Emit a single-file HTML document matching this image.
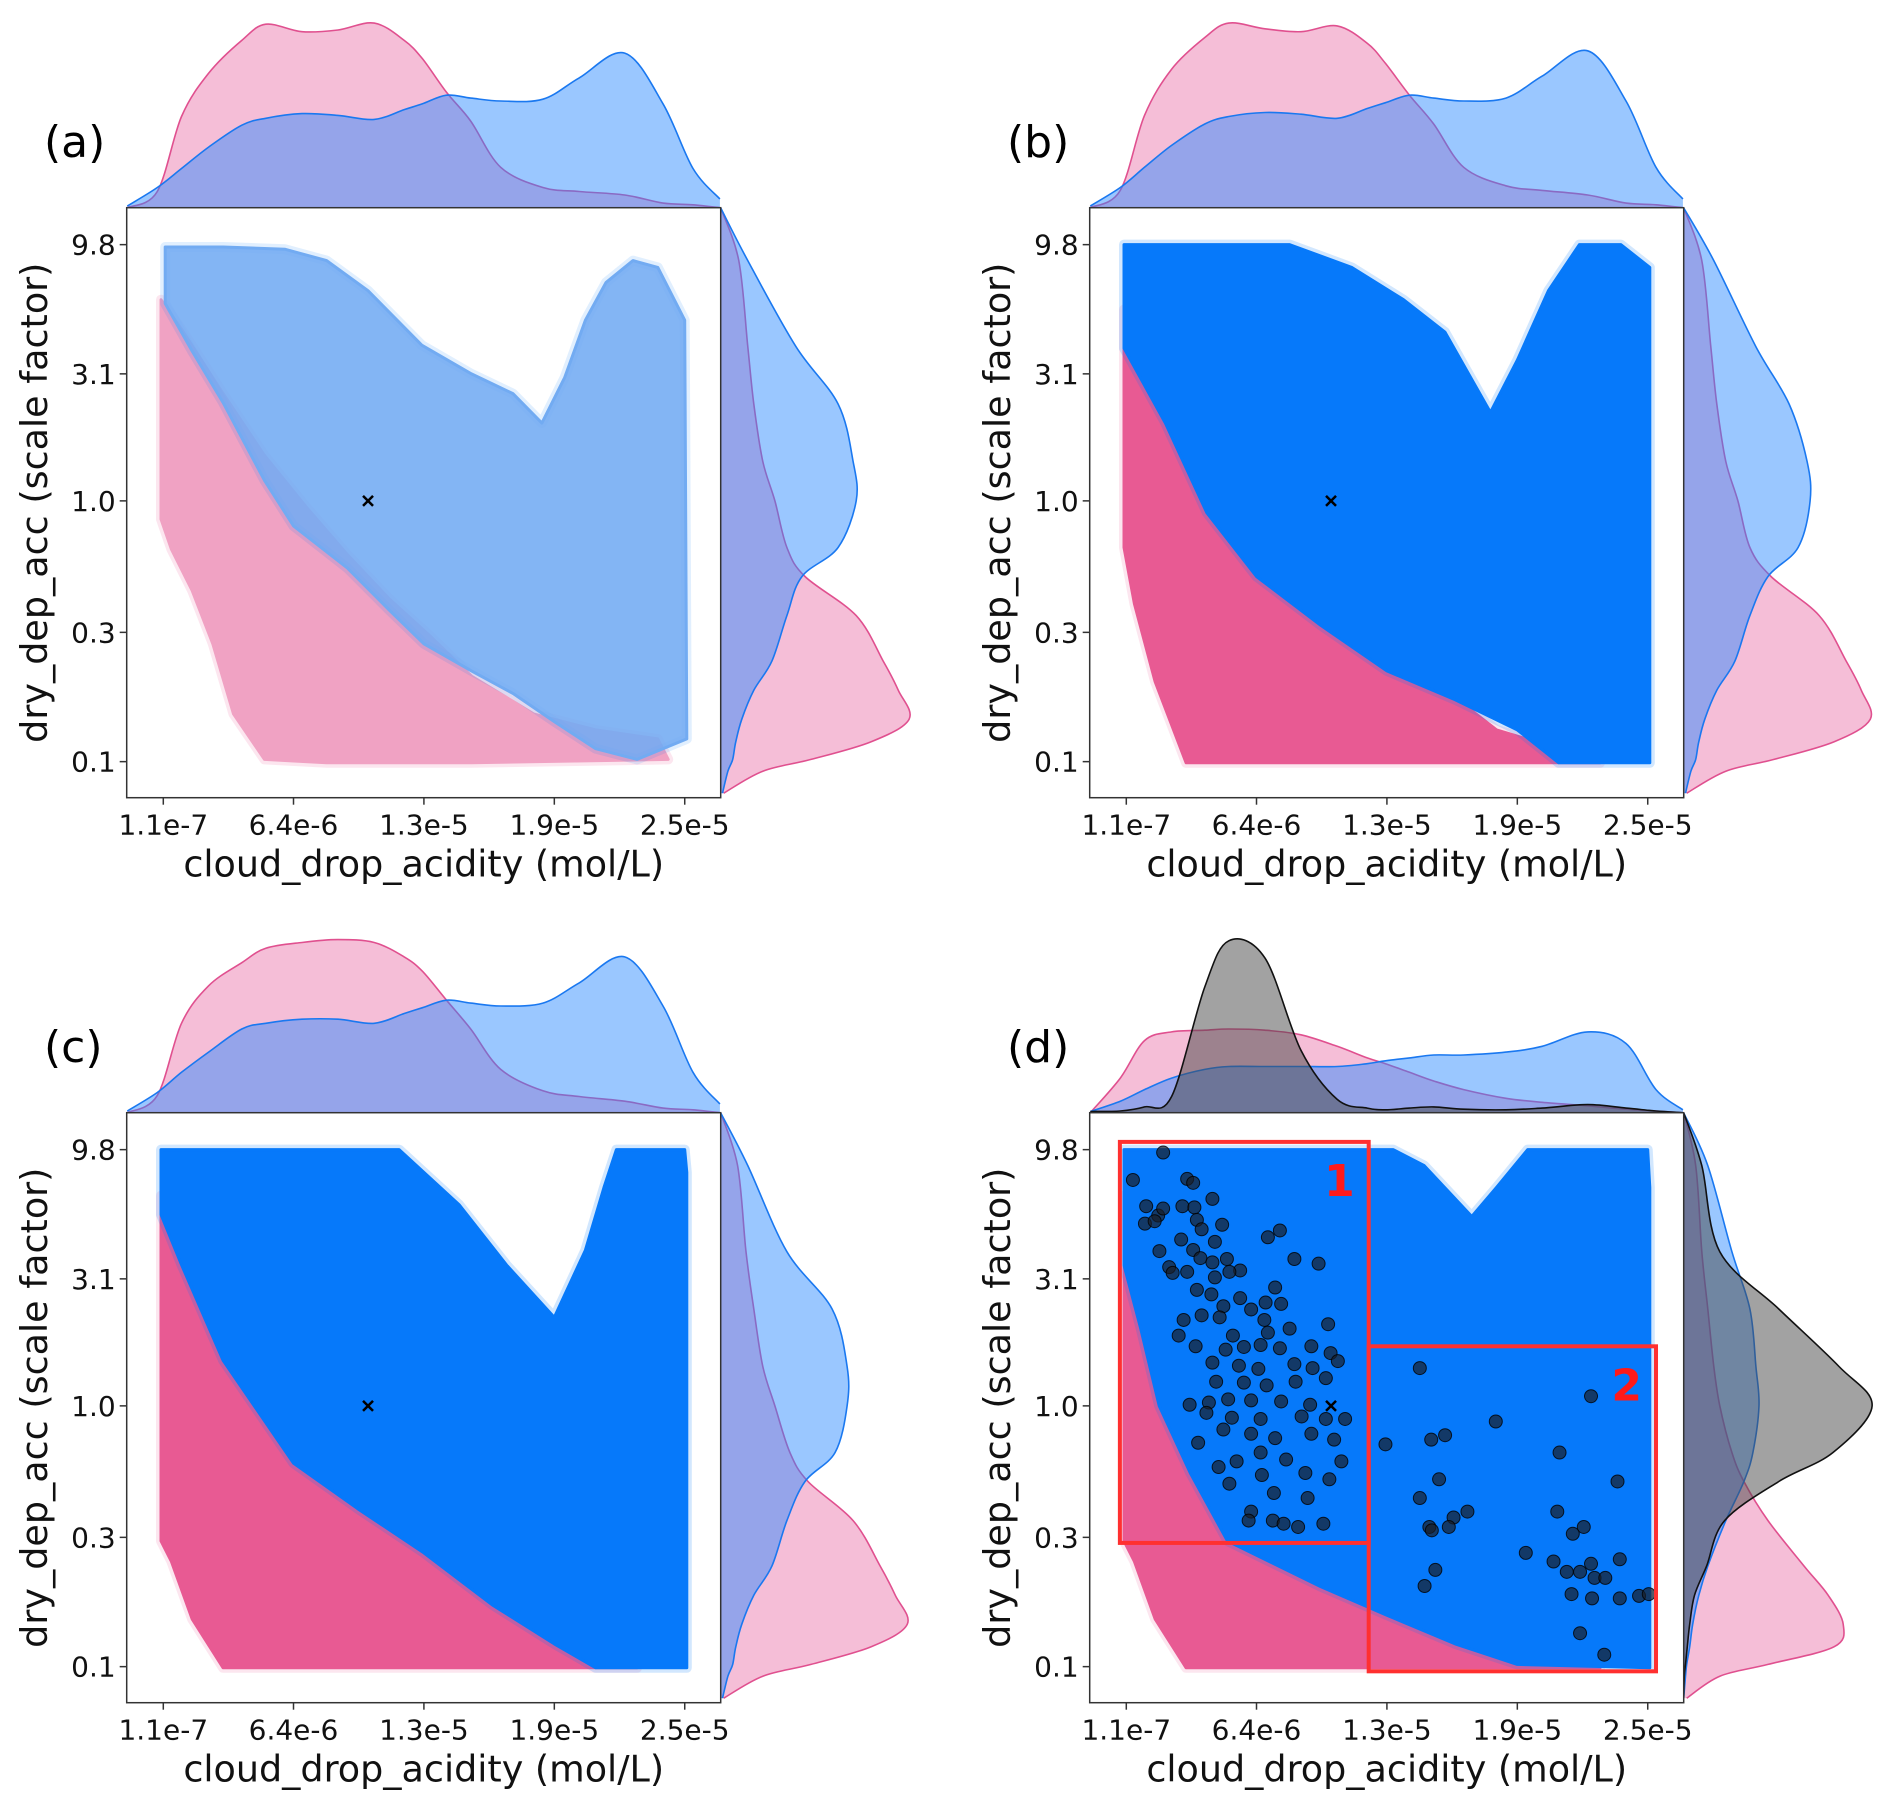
<!DOCTYPE html>
<html><head><meta charset="utf-8">
<style>
html,body{margin:0;padding:0;background:#fff;}
svg{display:block;font-family:"DejaVu Sans","Liberation Sans",sans-serif;}
</style></head>
<body>
<svg id="fig" width="1892" height="1809" viewBox="0 0 1892 1809" xmlns="http://www.w3.org/2000/svg"></svg>
<script>
// ---- chart data ----
const xTickVals = [0.11, 6.4, 12.7, 19.0, 25.3];           // 1e-6 mol/L
const xTickLabels = ['1.1e-7', '6.4e-6', '1.3e-5', '1.9e-5', '2.5e-5'];
const yTickVals = [9.8, 3.1, 1.0, 0.31, 0.098];
const yTickLabels = ['9.8', '3.1', '1.0', '0.3', '0.1'];
const panelLabels = ['(a)', '(b)', '(c)', '(d)'];
const baseX = [10];
const baseY = [1.0];

// top marginal KDE grid (x, 1e-6 mol/L) and densities
const topX = [-1.63, -0.18, 0.99, 2.30, 3.90, 5.06, 6.81, 8.55, 10.3, 11.75, 12.63, 13.79, 14.96, 16.41, 18.45, 20.2, 22.4, 24.25, 25.7, 27.0];
const pinkTopA = [0, 0.28, 1.58, 2.33, 2.90, 3.18, 3.05, 3.08, 3.20, 2.90, 2.58, 2.00, 1.50, 0.70, 0.35, 0.28, 0.22, 0.08, 0.05, 0];
const blueTopA = [0.03, 0.35, 0.68, 1.05, 1.43, 1.55, 1.63, 1.60, 1.53, 1.70, 1.80, 1.95, 1.90, 1.85, 1.88, 2.25, 2.68, 1.80, 0.68, 0.15];
const pinkTopB = [0, 0.30, 1.60, 2.40, 2.95, 3.20, 3.10, 3.05, 3.15, 2.85, 2.50, 1.95, 1.45, 0.70, 0.38, 0.30, 0.22, 0.08, 0.05, 0];
const blueTopB = [0.03, 0.35, 0.70, 1.08, 1.45, 1.58, 1.65, 1.62, 1.55, 1.72, 1.82, 1.95, 1.90, 1.85, 1.90, 2.28, 2.72, 1.85, 0.70, 0.15];
const pinkTopC = [0, 0.30, 1.55, 2.20, 2.60, 2.85, 2.95, 3.00, 2.95, 2.70, 2.45, 1.95, 1.45, 0.75, 0.38, 0.28, 0.20, 0.08, 0.05, 0];
const blueTopC = [0.03, 0.35, 0.70, 1.05, 1.45, 1.55, 1.62, 1.62, 1.55, 1.72, 1.82, 1.95, 1.90, 1.85, 1.90, 2.25, 2.70, 1.85, 0.70, 0.15];
const pinkTopD = [0, 0.60, 1.25, 1.40, 1.43, 1.45, 1.43, 1.35, 1.15, 0.95, 0.85, 0.70, 0.55, 0.40, 0.25, 0.18, 0.12, 0.06, 0.03, 0];
const blueTopD = [0.02, 0.20, 0.40, 0.60, 0.75, 0.80, 0.80, 0.80, 0.80, 0.85, 0.90, 0.95, 1.00, 1.00, 1.05, 1.15, 1.40, 1.20, 0.40, 0.05];
const blackTopD = [0.02, 0.03, 0.10, 0.28, 2.18, 2.98, 2.68, 1.08, 0.23, 0.08, 0.05, 0.08, 0.10, 0.06, 0.05, 0.08, 0.14, 0.08, 0.03, 0];

// right marginal KDE grid (y, scale factor) and densities
const rightY = [13.6, 8.5, 3.95, 2.37, 1.42, 1.0, 0.66, 0.51, 0.36, 0.24, 0.185, 0.143, 0.117, 0.1, 0.09, 0.074];
const pinkRightA = [0, 0.30, 0.45, 0.55, 0.70, 0.90, 1.10, 1.40, 2.25, 2.70, 2.95, 3.13, 2.50, 1.50, 0.70, 0.05];
const blueRightA = [0, 0.45, 1.25, 1.95, 2.20, 2.25, 1.95, 1.35, 1.10, 0.85, 0.55, 0.35, 0.25, 0.20, 0.12, 0.03];
const pinkRightB = [0, 0.30, 0.45, 0.55, 0.70, 0.90, 1.10, 1.45, 2.25, 2.70, 2.95, 3.10, 2.50, 1.50, 0.70, 0.05];
const blueRightB = [0, 0.50, 1.20, 1.75, 2.05, 2.10, 1.90, 1.40, 1.10, 0.85, 0.55, 0.35, 0.25, 0.20, 0.12, 0.03];
const pinkRightC = [0, 0.28, 0.42, 0.55, 0.70, 0.90, 1.15, 1.45, 2.20, 2.65, 2.90, 3.10, 2.50, 1.50, 0.70, 0.05];
const blueRightC = [0, 0.45, 1.10, 1.85, 2.10, 2.10, 1.90, 1.40, 1.10, 0.85, 0.55, 0.35, 0.25, 0.20, 0.12, 0.03];
const pinkRightD = [0, 0.20, 0.30, 0.40, 0.50, 0.60, 0.80, 1.00, 1.40, 2.00, 2.40, 2.65, 2.50, 1.40, 0.60, 0.05];
const blueRightD = [0, 0.40, 0.80, 1.10, 1.20, 1.25, 1.15, 1.00, 0.70, 0.40, 0.25, 0.15, 0.10, 0.05, 0.03, 0];
const blackRightD = [0, 0.30, 0.60, 1.58, 2.58, 3.13, 2.48, 1.58, 0.68, 0.38, 0.18, 0.10, 0.06, 0.03, 0.01, 0];

// scatter-cloud extents [x, y] per panel
const pinkCloudA = [[0,6],[1,4.6],[3,2.6],[5,1.5],[7,0.95],[9,0.62],[11,0.42],[13,0.3],[15,0.21],[18,0.15],[21,0.13],[24,0.12],[24.5,0.1],[15,0.097],[8,0.097],[5,0.1],[3.5,0.15],[2.5,0.28],[1.5,0.45],[0.5,0.65],[0,0.85]];
const blueCloudA = [[0.2,9.6],[3,9.6],[6,9.4],[8,8.5],[10,6.5],[12.6,4],[15,3.1],[17,2.6],[18.4,2.0],[19.5,3],[20.5,5],[21.5,7],[22.8,8.5],[24,8],[25.3,5],[25.4,0.12],[23,0.1],[21,0.11],[19,0.14],[17,0.18],[15,0.22],[12.7,0.28],[11,0.38],[9,0.55],[6.4,0.8],[5,1.2],[3,2.4],[1.5,3.8],[0.2,5.8]];
const pinkCloudB = [[0,5.5],[1,4],[3,2],[6,1],[9,0.55],[12,0.33],[15,0.2],[18,0.13],[21,0.11],[23,0.1],[23,0.097],[10,0.097],[3,0.097],[1.5,0.2],[0.5,0.4],[0,0.66]];
const blueCloudB = [[0,9.8],[8,9.8],[11,8],[13.5,6],[15.5,4.5],[17.7,2.2],[19,3.5],[20.5,6.5],[22,9.8],[24,9.8],[25.4,8],[25.4,0.097],[21,0.097],[19,0.13],[16,0.17],[12.7,0.22],[9.5,0.33],[6.4,0.51],[4,0.9],[2,2],[0,3.9]];
const pinkCloudC = [[0,6.5],[1,4.5],[3,2.4],[6,1.1],[9,0.6],[12,0.35],[15,0.22],[18,0.14],[21,0.12],[23,0.1],[23,0.097],[3,0.097],[1.5,0.15],[0.5,0.25],[0,0.3]];
const blueCloudC = [[0,9.8],[11.5,9.8],[14.4,6],[16.7,3.5],[19.0,2.2],[20.5,4],[21.4,7],[22,9.8],[25.3,9.8],[25.4,8],[25.4,0.097],[21,0.097],[19,0.12],[16,0.17],[12.7,0.27],[9.5,0.4],[6.4,0.6],[3,1.5],[1,3.5],[0,5.5]];
const pinkCloudD = [[0,6.5],[1,4.5],[3,2.4],[6,1.1],[9,0.6],[12,0.35],[15,0.22],[18,0.14],[21,0.12],[23,0.1],[23,0.097],[3,0.097],[1.5,0.15],[0.5,0.25],[0,0.3]];
const blueCloudD = [[0,9.8],[13,9.8],[14.5,8.5],[16.8,5.4],[18,7],[19.5,9.8],[25.3,9.8],[25.4,7],[25.4,0.097],[19,0.1],[16,0.12],[12.7,0.155],[9.5,0.2],[5,0.3],[3.2,0.55],[1.7,1.0],[0.8,2],[0,3.5]];

// selected samples (panel d)
const blackX = [1.89,0.43,3.05,3.34,4.27,1.07,1.65,1.89,1.01,1.48,2.82,3.40,3.52,3.75,4.74,6.95,7.53,2.76,1.71,3.34,4.39,8.23,9.40,2.18,2.35,3.05,3.69,4.27,4.97,5.61,4.39,5.09,7.30,3.52,4.22,5.61,6.84,7.59,4.80,6.14,2.88,3.75,4.62,6.78,9.86,2.64,5.26,6.95,8.00,3.46,4.91,5.79,6.60,7.53,9.05,9.98,10.33,4.27,5.55,6.49,8.23,9.11,4.45,5.79,6.89,8.29,9.75,3.17,4.10,5.03,6.14,7.59,8.99,10.68,3.98,5.21,6.60,8.58,9.75,3.58,4.80,6.14,7.30,9.05,10.15,4.57,5.44,6.60,7.83,10.50,5.09,6.66,8.76,9.92,7.24,8.87,6.14,6.02,7.19,7.71,8.41,9.63,
  14.29,22.56,17.96,12.63,14.84,15.51,21.04,23.84,15.22,14.29,16.59,15.92,20.93,22.21,14.75,14.87,15.69,21.68,19.41,20.75,22.56,23.95,21.39,22.03,22.73,23.25,15.04,14.52,21.62,22.61,23.95,24.88,25.35,22.03,23.20];
const blackY = [9.55,7.48,7.55,7.29,6.32,5.92,5.45,5.80,5.07,5.18,5.92,5.86,5.24,4.82,5.02,4.49,4.77,4.40,3.97,4.01,4.31,3.70,3.55,3.44,3.27,3.30,3.73,3.59,3.70,3.34,3.14,3.30,2.87,2.81,2.70,2.61,2.51,2.48,2.43,2.36,2.15,2.24,2.20,2.15,2.07,1.87,1.87,1.92,1.99,1.70,1.65,1.69,1.72,1.67,1.70,1.60,1.49,1.47,1.43,1.39,1.45,1.40,1.24,1.23,1.20,1.24,1.28,1.01,1.03,1.06,1.05,1.04,1.01,0.89,0.94,0.90,0.89,0.91,0.89,0.72,0.81,0.78,0.75,0.78,0.74,0.58,0.61,0.66,0.62,0.61,0.50,0.54,0.55,0.52,0.46,0.44,0.39,0.36,0.36,0.35,0.34,0.35,
  1.40,1.09,0.87,0.71,0.74,0.77,0.66,0.51,0.52,0.44,0.39,0.37,0.39,0.34,0.34,0.33,0.34,0.32,0.27,0.25,0.245,0.255,0.228,0.228,0.216,0.216,0.232,0.201,0.187,0.180,0.180,0.184,0.187,0.132,0.109];

// selection boxes [x0, x1, yTop, yBottom]
const box1 = [-0.2, 11.82, 10.5, 0.295];
const box2 = [11.82, 25.7, 1.70, 0.094];
const boxLabels = ['1', '2'];

// ---- axis functions (panel-local pixels) ----
const PL = 126.7, PR = 720.7, PT = 207.7, PB = 797.7;
function sx(v) { return 163.3 + (v - 0.11) * 20.7; }
function sy(y) { return 761.7 - (Math.log10(y) + 1.009) * 258.5; }
function tyD(d) { return PT - d * 57.7; }
function rxD(d) { return PR + d * 60.2; }

const NS = 'http://www.w3.org/2000/svg';
const fig = document.getElementById('fig');
function mk(tag, attrs, parent) {
  const e = document.createElementNS(NS, tag);
  for (const k in attrs) e.setAttribute(k, attrs[k]);
  (parent || fig).appendChild(e);
  return e;
}
function smooth(pts) {
  let d = 'M' + pts[0][0].toFixed(1) + ',' + pts[0][1].toFixed(1);
  for (let i = 0; i < pts.length - 1; i++) {
    const p0 = pts[Math.max(0, i - 1)], p1 = pts[i], p2 = pts[i + 1], p3 = pts[Math.min(pts.length - 1, i + 2)];
    const c1 = [p1[0] + (p2[0] - p0[0]) / 6, p1[1] + (p2[1] - p0[1]) / 6];
    const c2 = [p2[0] - (p3[0] - p1[0]) / 6, p2[1] - (p3[1] - p1[1]) / 6];
    d += 'C' + c1[0].toFixed(1) + ',' + c1[1].toFixed(1) + ' ' + c2[0].toFixed(1) + ',' + c2[1].toFixed(1) + ' ' + p2[0].toFixed(1) + ',' + p2[1].toFixed(1);
  }
  return d;
}
function poly(pts) {
  return 'M' + pts.map(p => p[0].toFixed(1) + ',' + p[1].toFixed(1)).join('L') + 'Z';
}

const PINK = '#e85a93', BLUE = '#0679fa';
const KDE = {
  pink: { fill: 'rgba(232,100,160,0.42)', stroke: '#e0508f' },
  blue: { fill: 'rgba(40,135,255,0.47)', stroke: '#1a78f0' },
  black: { fill: 'rgba(70,70,70,0.5)', stroke: '#111' }
};

const panels = [
  { ox: 0, oy: 0, sparse: true, pink: pinkCloudA, blue: blueCloudA, tops: [['pink', pinkTopA], ['blue', blueTopA]], rights: [['pink', pinkRightA], ['blue', blueRightA]] },
  { ox: 963, oy: 0, sparse: false, pink: pinkCloudB, blue: blueCloudB, tops: [['pink', pinkTopB], ['blue', blueTopB]], rights: [['pink', pinkRightB], ['blue', blueRightB]] },
  { ox: 0, oy: 905, sparse: false, pink: pinkCloudC, blue: blueCloudC, tops: [['pink', pinkTopC], ['blue', blueTopC]], rights: [['pink', pinkRightC], ['blue', blueRightC]] },
  { ox: 963, oy: 905, sparse: false, pink: pinkCloudD, blue: blueCloudD, tops: [['pink', pinkTopD], ['blue', blueTopD], ['black', blackTopD]], rights: [['pink', pinkRightD], ['blue', blueRightD], ['black', blackRightD]], selected: true }
];

const defs = mk('defs', {});
const cp = mk('clipPath', { id: 'plotclip' }, defs);
mk('rect', { x: PL, y: PT, width: PR - PL, height: PB - PT }, cp);

panels.forEach((p, pi) => {
  const g = mk('g', { transform: 'translate(' + p.ox + ',' + p.oy + ')' });
  
  

  const tg = mk('g', {}, g);
  
  
  p.tops.forEach(([c, arr]) => {
    const pts = topX.map((x, i) => [sx(x), tyD(arr[i])]);
    const d = smooth(pts);
    const f = mk('path', { d: d + 'L' + sx(topX[topX.length - 1]) + ',' + PT + 'L' + sx(topX[0]) + ',' + PT + 'Z', fill: KDE[c].fill, stroke: 'none' }, tg);
    
    
    const l = mk('path', { d: d, fill: 'none', stroke: KDE[c].stroke, 'stroke-width': 1.6 }, tg);
    
    
  });

  const rg = mk('g', {}, g);
  
  
  p.rights.forEach(([c, arr]) => {
    const pts = rightY.map((y, i) => [rxD(arr[i]), sy(y)]);
    const d = smooth(pts);
    const f = mk('path', { d: d + 'L' + PR + ',' + sy(rightY[rightY.length - 1]) + 'L' + PR + ',' + sy(rightY[0]) + 'Z', fill: KDE[c].fill, stroke: 'none' }, rg);
    
    
    const l = mk('path', { d: d, fill: 'none', stroke: KDE[c].stroke, 'stroke-width': 1.6 }, rg);
    
    
  });

  const bg = mk('rect', { x: PL, y: PT, width: PR - PL, height: PB - PT, fill: '#fff' }, g);
  
  
  const sg = mk('g', { 'clip-path': 'url(#plotclip)' }, g);
  
  

  const pinkFill = p.sparse ? '#f0a2c3' : PINK;
  const blueFill = p.sparse ? '#72abf2' : BLUE;
  const pd = poly(p.pink.map(([x, y]) => [sx(x), sy(y)]));
  mk('path', { d: pd, fill: 'none', stroke: PINK, 'stroke-opacity': 0.15, 'stroke-width': 10, 'stroke-linejoin': 'round' }, sg);
  const pc = mk('path', { d: pd, fill: pinkFill, stroke: pinkFill, 'stroke-width': 3, 'stroke-linejoin': 'round' }, sg);
  
  
  const bd = poly(p.blue.map(([x, y]) => [sx(x), sy(y)]));
  mk('path', { d: bd, fill: 'none', stroke: BLUE, 'stroke-opacity': p.sparse ? 0.12 : 0.18, 'stroke-width': 10, 'stroke-linejoin': 'round' }, sg);
  const bc = mk('path', { d: bd, fill: blueFill, 'fill-opacity': p.sparse ? 0.88 : 1, stroke: blueFill, 'stroke-width': 3, 'stroke-linejoin': 'round' }, sg);
  
  

  if (p.selected) {
    blackX.forEach((x, i) => {
      const c = mk('circle', { cx: sx(x), cy: sy(blackY[i]), r: 6.5, fill: 'rgba(25,30,40,0.7)', stroke: 'rgba(0,0,0,0.8)', 'stroke-width': 1 }, sg);
      
      
    });
  }

  const mx = sx(baseX[0]), my = sy(baseY[0]);
  const mkx = mk('path', { d: 'M' + (mx - 5) + ',' + (my - 5) + 'L' + (mx + 5) + ',' + (my + 5) + 'M' + (mx + 5) + ',' + (my - 5) + 'L' + (mx - 5) + ',' + (my + 5), stroke: '#000', 'stroke-width': 2.5 }, g);
  
  

  if (p.selected) {
    [box1, box2].forEach((b, bi) => {
      const r = mk('rect', { x: sx(b[0]), y: sy(b[2]), width: sx(b[1]) - sx(b[0]), height: sy(b[3]) - sy(b[2]), fill: 'none', stroke: '#ff3030', 'stroke-width': 4 }, g);
      
      
      const t = mk('text', { x: sx(b[1]) - 14, y: sy(b[2]) + 54, 'text-anchor': 'end', 'font-size': 44, 'font-weight': 'bold', fill: '#ff1a1a' }, g);
      t.textContent = boxLabels[bi];
      
      
    });
  }

  const fr = mk('rect', { x: PL, y: PT, width: PR - PL, height: PB - PT, fill: 'none', stroke: '#333', 'stroke-width': 1.5 }, g);
  
  

  xTickVals.forEach((v, i) => {
    mk('line', { x1: sx(v), x2: sx(v), y1: PB, y2: PB + 7, stroke: '#333', 'stroke-width': 1.5 }, g);
    const t = mk('text', { x: sx(v), y: PB + 37, 'text-anchor': 'middle', 'font-size': 28, fill: '#111' }, g);
    t.textContent = xTickLabels[i];
    
    
  });
  yTickVals.forEach((v, i) => {
    mk('line', { x1: PL - 7, x2: PL, y1: sy(v), y2: sy(v), stroke: '#333', 'stroke-width': 1.5 }, g);
    const t = mk('text', { x: PL - 11, y: sy(v) + 10, 'text-anchor': 'end', 'font-size': 28, fill: '#111' }, g);
    t.textContent = yTickLabels[i];
    
    
  });
  const xl = mk('text', { x: (PL + PR) / 2, y: PB + 79, 'text-anchor': 'middle', 'font-size': 36.5, fill: '#111' }, g);
  xl.textContent = 'cloud_drop_acidity (mol/L)';
  
  
  const yl = mk('text', { x: 0, y: 0, transform: 'translate(47,' + ((PT + PB) / 2) + ') rotate(-90)', 'text-anchor': 'middle', 'font-size': 36.5, fill: '#111' }, g);
  yl.textContent = 'dry_dep_acc (scale factor)';
  
  
  const pl = mk('text', { x: 44, y: 157, 'font-size': 44, fill: '#000' }, g);
  pl.textContent = panelLabels[pi];
  
  
});
</script>
</body></html>
